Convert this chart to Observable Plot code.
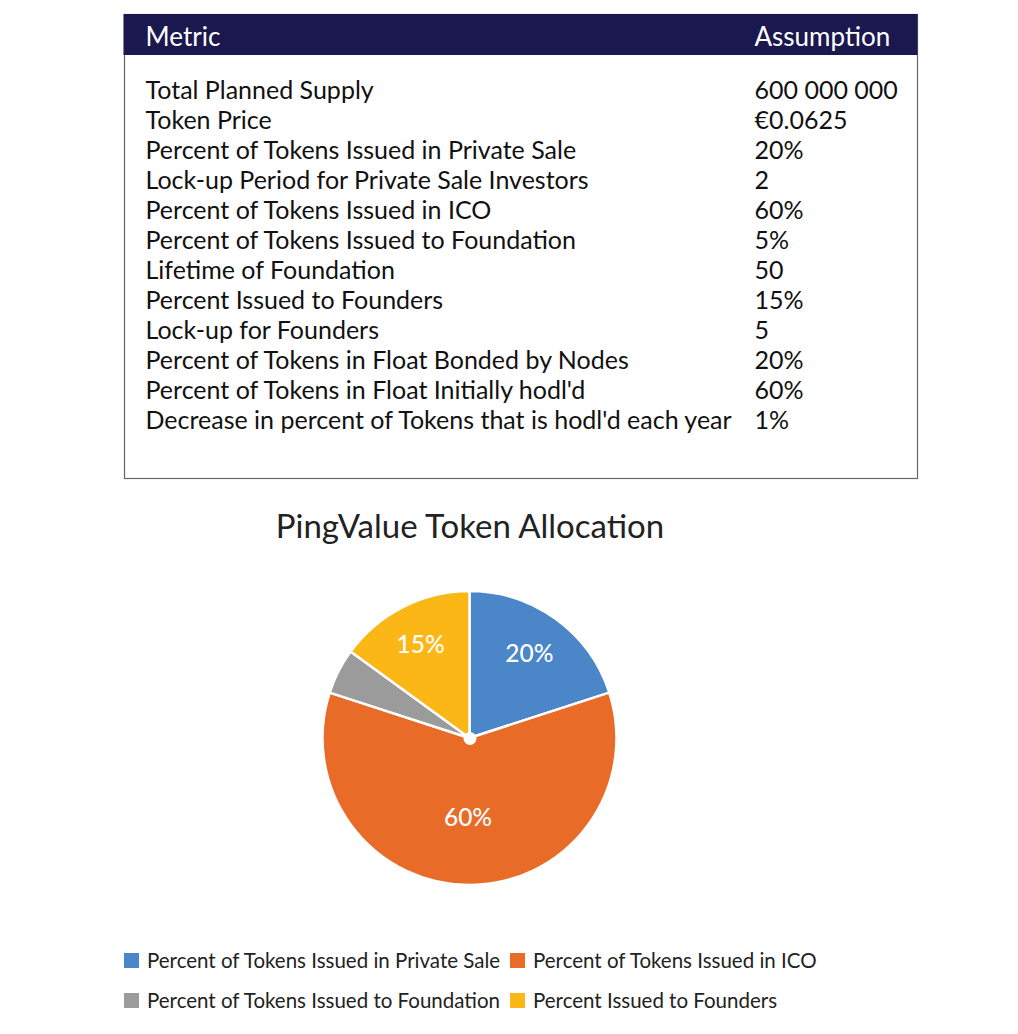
<!DOCTYPE html>
<html><head><meta charset="utf-8">
<script src="https://cdn.jsdelivr.net/npm/d3@7"></script>
<script src="https://cdn.jsdelivr.net/npm/@observablehq/plot@0.6"></script>
<style>
body{margin:0;background:#fff;width:1018px;}
#chart svg{display:block}
body .pv-swatches-wrap{display:grid;grid-template-columns:386px max-content;row-gap:16px;margin-left:124px;margin-top:13px;min-height:0;}
body .pv-swatch{margin-right:0;}
body .pv-swatch > svg{margin-right:8px;}
</style></head><body><div id="chart"></div>
<script>
const headers = ["Metric", "Assumption"];
const metrics = [
  "Total Planned Supply",
  "Token Price",
  "Percent of Tokens Issued in Private Sale",
  "Lock-up Period for Private Sale Investors",
  "Percent of Tokens Issued in ICO",
  "Percent of Tokens Issued to Foundation",
  "Lifetime of Foundation",
  "Percent Issued to Founders",
  "Lock-up for Founders",
  "Percent of Tokens in Float Bonded by Nodes",
  "Percent of Tokens in Float Initially hodl'd",
  "Decrease in percent of Tokens that is hodl'd each year"
];
const assumptions = ["600 000 000", "€0.0625", "20%", "2", "60%", "5%", "50", "15%", "5", "20%", "60%", "1%"];
const categories = [
  "Percent of Tokens Issued in Private Sale",
  "Percent of Tokens Issued in ICO",
  "Percent of Tokens Issued to Foundation",
  "Percent Issued to Founders"
];
const shares = [20, 60, 5, 15];
const colors = ["#4a86c8", "#e96b28", "#9b9b9b", "#fbb715"];
const chartTitle = "PingValue Token Allocation";

const font = "Lato, 'Noto Sans', sans-serif";
const W = 1018;
const rows = metrics.map((m, i) => ({metric: m, assumption: assumptions[i]}));
const svgNS = "http://www.w3.org/2000/svg";

const table = Plot.plot({
  width: W, height: 490,
  marginLeft: 124, marginRight: 101, marginTop: 14, marginBottom: 12,
  style: {fontFamily: font, background: "#fff", overflow: "visible"},
  x: {type: "point", domain: headers, range: [145, 754], padding: 0, axis: null},
  y: {type: "point", domain: metrics, range: [87, 422], padding: 0, axis: null},
  marks: [
    Plot.frame({stroke: "#666", strokeWidth: 1.2}),
    (index, scales, values, dims) => {
      const r = document.createElementNS(svgNS, "rect");
      r.setAttribute("x", dims.marginLeft - 0.5);
      r.setAttribute("y", dims.marginTop);
      r.setAttribute("width", dims.width - dims.marginLeft - dims.marginRight + 1);
      r.setAttribute("height", 41);
      r.setAttribute("fill", "#1b174f");
      return r;
    },
    Plot.text(headers, {x: d => d, frameAnchor: "top", lineAnchor: "middle", dy: 23, textAnchor: "start", fill: "#fff", fontSize: 26}),
    Plot.text(rows, {x: () => headers[0], y: "metric", text: "metric", textAnchor: "start", fill: "#111", fontSize: 25}),
    Plot.text(rows, {x: () => headers[1], y: "metric", text: "assumption", textAnchor: "start", fill: "#111", fontSize: 25})
  ]
});

const pieData = d3.pie().sort(null).value(d => d.share)(categories.map((c, i) => ({category: c, share: shares[i]})));
const labels = pieData.filter(p => p.data.share >= 10).map(p => {
  const a = (p.startAngle + p.endAngle) / 2;
  const rho = p.data.share > 50 ? 0.54 : 0.71;
  return {x: rho * Math.sin(a), y: rho * Math.cos(a), text: p.data.share + "%"};
});
const colorScale = Plot.scale({color: {type: "categorical", domain: categories, range: colors}});

const pieR = 147, pcx = 469.5, pcy = 248;
const pie = Plot.plot({
  width: W, height: 445,
  marginLeft: 0, marginRight: 0, marginTop: 0, marginBottom: 0,
  style: {fontFamily: font, background: "#fff", overflow: "visible"},
  x: {domain: [-1, 1], range: [pcx - pieR, pcx + pieR], axis: null},
  y: {domain: [-1, 1], range: [pcy + pieR, pcy - pieR], axis: null},
  marks: [
    (index, scales) => {
      const cx = scales.x(0), cy = scales.y(0), r = scales.x(1) - scales.x(0);
      const g = document.createElementNS(svgNS, "g");
      g.setAttribute("transform", `translate(${cx},${cy})`);
      const arc = d3.arc().innerRadius(0).outerRadius(r);
      for (const p of pieData) {
        const path = document.createElementNS(svgNS, "path");
        path.setAttribute("d", arc(p));
        path.setAttribute("fill", colorScale.apply(p.data.category));
        path.setAttribute("stroke", "#fff");
        path.setAttribute("stroke-width", 2.5);
        path.setAttribute("stroke-linejoin", "round");
        g.appendChild(path);
      }
      return g;
    },
    Plot.dot([0], {x: () => 0, y: () => 0, r: 6.5, fill: "#fff", stroke: null}),
    Plot.text(labels, {x: "x", y: "y", text: "text", fill: "#fff", fontSize: 24.5, fontWeight: 500, dx: -2}),
    Plot.text([chartTitle], {x: () => 0, frameAnchor: "top", lineAnchor: "middle", dy: 37, fontSize: 33, fill: "#222"})
  ]
});

const legend = Plot.legend({
  color: {type: "categorical", domain: categories, range: colors},
  className: "pv", swatchSize: 15,
  style: {fontFamily: font, fontSize: "20.5px", color: "#222"}
});

const root = document.getElementById("chart");
root.append(table, pie, legend);
</script></body></html>
